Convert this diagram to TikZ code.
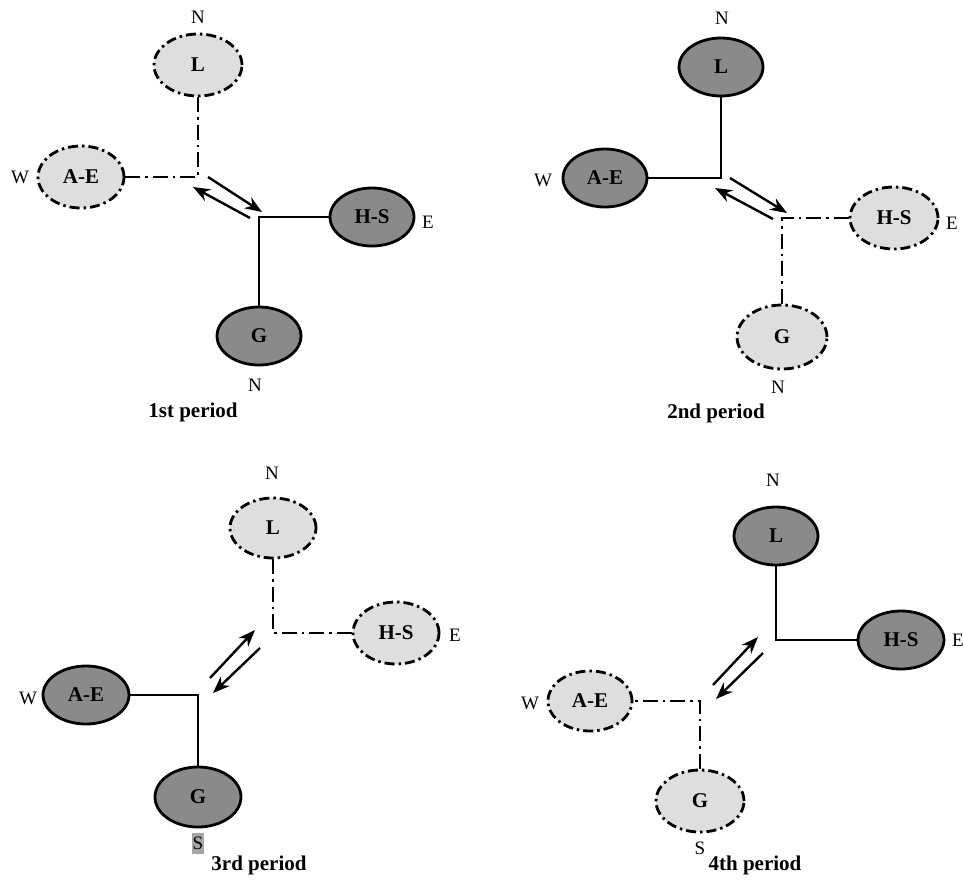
\documentclass[tikz,border=0pt]{standalone}
\usepackage{fontspec}
\setmainfont{Liberation Serif}
\usetikzlibrary{shapes.geometric,arrows.meta}
\definecolor{darkfill}{RGB}{138,138,138}
\definecolor{lightfill}{RGB}{222,222,222}
\tikzset{
  region/.style={ellipse, inner sep=0pt, line width=2.8pt,
    font=\fontsize{21}{21}\selectfont\bfseries},
  active/.style={region, draw=black, fill=darkfill},
  weak/.style={region, draw=black, fill=lightfill,
    dash pattern=on 10pt off 4pt on 2.5pt off 4pt},
  solidlink/.style={draw=black, line width=2.4pt},
  weaklink/.style={draw=black, line width=2.4pt,
    dash pattern=on 15pt off 5pt on 2.5pt off 5pt},
  flow/.style={draw=black, line width=2.4pt,
    -{Stealth[length=17pt,width=13pt]}},
  compass/.style={font=\fontsize{19}{19}\selectfont},
  caption/.style={font=\fontsize{21}{21}\selectfont\bfseries}
}
\begin{document}
\begin{tikzpicture}[x=1pt,y=-1pt]
\useasboundingbox (0,0) rectangle (964,879);

% ---------- 1st period ----------
\node[weak, minimum width=88pt, minimum height=62pt] (L1) at (198,65) {L};
\node[weak, minimum width=86pt, minimum height=62pt] (AE1) at (81,177) {A-E};
\node[active, minimum width=84pt, minimum height=58pt] (HS1) at (372,217) {H-S};
\node[active, minimum width=84pt, minimum height=58pt] (G1) at (259,336) {G};
\path[weaklink] (L1) |- (AE1);
\path[solidlink] (G1) |- (HS1);
\coordinate (p1a) at (208,177); \coordinate (p1b) at (262,212);
\coordinate (p1c) at (250,218); \coordinate (p1d) at (193,187);
\draw[flow] (p1a) -- (p1b);
\draw[flow] (p1c) -- (p1d);
\node[compass] (n1a) at (198,17) {N};
\node[compass] (w1) at (20,177) {W};
\node[compass] (e1) at (428,222) {E};
\node[compass] (n1b) at (255,385) {N};
\node[caption] (c1) at (193,412) {1st period};

% ---------- 2nd period ----------
\node[active, minimum width=84pt, minimum height=58pt] (L2) at (721,67) {L};
\node[active, minimum width=84pt, minimum height=58pt] (AE2) at (605,178) {A-E};
\node[weak, minimum width=88pt, minimum height=62pt] (HS2) at (894,218) {H-S};
\node[weak, minimum width=90pt, minimum height=64pt] (G2) at (782,337) {G};
\path[solidlink] (L2) |- (AE2);
\path[weaklink] (G2) |- (HS2);
\coordinate (p2a) at (730,178); \coordinate (p2b) at (787,213);
\coordinate (p2c) at (773,219); \coordinate (p2d) at (715,188);
\draw[flow] (p2a) -- (p2b);
\draw[flow] (p2c) -- (p2d);
\node[compass] (n2a) at (722,18) {N};
\node[compass] (w2) at (543,180) {W};
\node[compass] (e2) at (952,223) {E};
\node[compass] (n2b) at (778,387) {N};
\node[caption] (c2) at (716,413) {2nd period};

% ---------- 3rd period ----------
\node[weak, minimum width=86pt, minimum height=60pt] (L3) at (273,528) {L};
\node[weak, minimum width=86pt, minimum height=62pt] (HS3) at (396,633) {H-S};
\node[active, minimum width=86pt, minimum height=58pt] (AE3) at (86,695) {A-E};
\node[active, minimum width=86pt, minimum height=60pt] (G3) at (198,797) {G};
\path[weaklink] (L3) |- (HS3);
\path[solidlink] (G3) |- (AE3);
\coordinate (p3a) at (210,678); \coordinate (p3b) at (255,630);
\coordinate (p3c) at (260,648); \coordinate (p3d) at (213,693);
\draw[flow] (p3a) -- (p3b);
\draw[flow] (p3c) -- (p3d);
\node[compass] (n3) at (272,473) {N};
\node[compass] (e3) at (455,635) {E};
\node[compass] (w3) at (28,698) {W};
\node[compass, fill=gray!70, inner sep=0pt, minimum width=12pt,
  minimum height=21pt] (s3) at (198,843) {S};
\node[caption] (c3) at (259,865) {3rd period};

% ---------- 4th period ----------
\node[active, minimum width=84pt, minimum height=58pt] (L4) at (776,536) {L};
\node[active, minimum width=86pt, minimum height=58pt] (HS4) at (901,640) {H-S};
\node[weak, minimum width=84pt, minimum height=60pt] (AE4) at (590,701) {A-E};
\node[weak, minimum width=88pt, minimum height=62pt] (G4) at (700,801) {G};
\path[solidlink] (L4) |- (HS4);
\path[weaklink] (G4) |- (AE4);
\coordinate (p4a) at (713,685); \coordinate (p4b) at (758,637);
\coordinate (p4c) at (763,653); \coordinate (p4d) at (716,699);
\draw[flow] (p4a) -- (p4b);
\draw[flow] (p4c) -- (p4d);
\node[compass] (n4) at (773,480) {N};
\node[compass] (e4) at (958,640) {E};
\node[compass] (w4) at (530,703) {W};
\node[compass] (s4) at (700,848) {S};
\node[caption] (c4) at (755,865) {4th period};
\end{tikzpicture}
\end{document}
